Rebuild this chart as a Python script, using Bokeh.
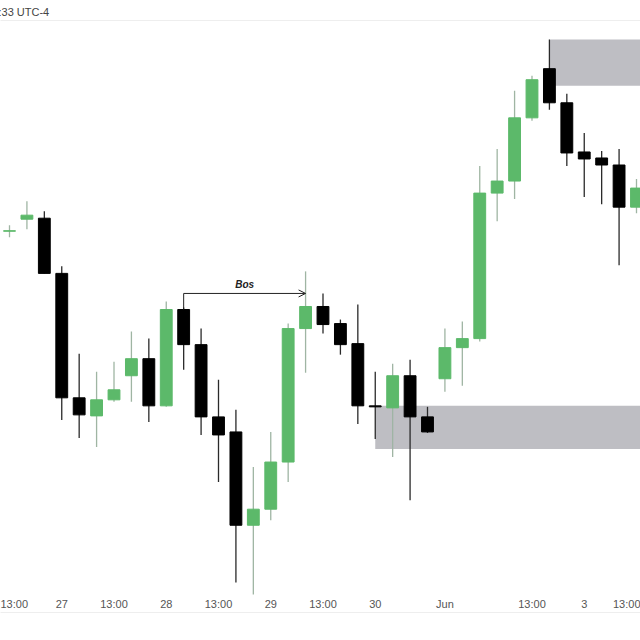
from bokeh.plotting import figure
from bokeh.models import (ColumnDataSource, Range1d, FixedTicker, LinearAxis,
                          Arrow, OpenHead, Label)
from bokeh.embed import file_html
from bokeh.resources import INLINE

# ---- data ----
opens  = [141.0, 142.2, 142.3, 136.8, 124.4, 122.6, 124.2, 126.6, 128.3, 123.6,
          133.2, 129.7, 122.5, 121.0, 111.7, 113.3, 118.0, 131.3, 133.5, 131.8,
          129.8, 123.6, 123.4, 126.6, 122.5, 126.3, 129.4, 130.3, 144.8, 146.0,
          152.3, 157.2, 153.8, 148.9, 148.3, 147.6, 143.4]
closes = [141.05, 142.6, 136.8, 124.4, 122.7, 124.2, 125.2, 128.3, 123.6, 133.2,
          129.7, 122.5, 120.7, 111.7, 113.3, 118.0, 131.3, 133.5, 131.7, 129.7,
          123.6, 123.5, 126.6, 122.5, 121.0, 129.4, 130.3, 144.8, 146.0, 152.3,
          156.1, 153.8, 148.8, 148.2, 147.6, 143.4, 145.3]
highs  = [141.6, 144.0, 143.0, 137.5, 128.8, 127.0, 128.0, 131.0, 130.3, 134.0,
          133.4, 131.3, 126.2, 123.2, 117.5, 121.0, 131.8, 137.0, 134.8, 132.2,
          133.7, 127.0, 127.8, 128.2, 123.5, 131.3, 132.0, 147.5, 149.2, 155.0,
          156.5, 160.1, 154.7, 150.8, 149.0, 149.2, 146.2]
lows   = [140.4, 141.2, 136.8, 122.2, 120.4, 119.5, 124.0, 124.0, 122.0, 123.5,
          127.2, 120.7, 116.0, 106.0, 104.7, 112.2, 116.0, 126.9, 130.8, 128.7,
          121.8, 120.3, 118.5, 114.2, 120.9, 125.0, 125.6, 130.0, 142.0, 144.2,
          152.0, 153.1, 147.5, 144.4, 143.7, 137.6, 142.8]

tick_idx    = [0, 3, 6, 9, 12, 15, 18, 21, 25, 30, 33, 36]
tick_labels = ["13:00", "27", "13:00", "28", "13:00", "29", "13:00", "30",
               "Jun", "13:00", "3", "13:00"]

# supply / demand zones: (start candle index, top, bottom)
zone_start  = [31, 21]
zone_top    = [160.1, 123.6]
zone_bottom = [155.5, 119.3]

bos_from, bos_to, bos_level = 10, 17, 134.8

GREEN = "#5cb96a"
BLACK = "#000000"

xs = list(range(len(opens)))
up = [c >= o for o, c in zip(opens, closes)]
src = ColumnDataSource(dict(
    x=xs,
    top=[max(o, c) for o, c in zip(opens, closes)],
    bottom=[min(o, c) for o, c in zip(opens, closes)],
    high=highs, low=lows,
    color=[GREEN if u else BLACK for u in up],
    wick=["#9fb5a3" if u else "#2a2a2a" for u in up],
))

p = figure(width=640, height=640, output_backend="svg", toolbar_location=None,
           x_range=Range1d(-0.517, 36.23), y_range=Range1d(104.8, 162.0),
           y_axis_location=None, x_axis_location="below",
           min_border_left=0, min_border_right=0, min_border_top=0,
           min_border_bottom=46, background_fill_color="white",
           border_fill_color="white")
p.outline_line_color = None
p.xgrid.visible = False
p.ygrid.visible = False

p.title.text = ":33 UTC-4"
p.title.align = "left"
p.title.text_font = "Liberation Sans"
p.title.text_font_size = "11px"
p.title.text_font_style = "normal"
p.title.text_color = "#444444"
p.title.offset = -2
p.title.standoff = 5.5

# zones
p.quad(left=zone_start, right=[40, 40], top=zone_top, bottom=zone_bottom,
       fill_color="#bebec3", line_color=None)

# candles
p.segment(x0="x", y0="high", x1="x", y1="low", line_color="wick",
          line_width=1.3, source=src)
p.vbar(x="x", width=0.68, top="top", bottom="bottom", fill_color="color",
       line_color="color", line_width=1, source=src)

# BOS
p.segment(x0=[bos_from], y0=[bos_level], x1=[bos_from], y1=[opens[bos_from]],
          line_color="#222222", line_width=1)
p.add_layout(Arrow(end=OpenHead(size=7, line_width=1, line_color="#222222"),
                   x_start=bos_from, y_start=bos_level, x_end=bos_to,
                   y_end=bos_level, line_width=1, line_color="#222222"))
p.add_layout(Label(x=(bos_from + bos_to) / 2, y=bos_level, y_offset=3,
                   text="Bos", text_align="center", text_font="Liberation Sans",
                   text_font_size="10px", text_font_style="bold italic",
                   text_color="#222222"))

# x axis
ax = p.xaxis[0]
ax.ticker = FixedTicker(ticks=tick_idx)
ax.major_label_overrides = {i: t for i, t in zip(tick_idx, tick_labels)}
ax.axis_line_color = None
ax.major_tick_line_color = None
ax.minor_tick_line_color = None
ax.major_tick_out = 0
ax.major_label_standoff = 3
ax.major_label_text_font = "Liberation Sans"
ax.major_label_text_font_size = "11px"
ax.major_label_text_color = "#555555"

# separator lines
top_ax = LinearAxis(axis_line_color="#eeeeee", major_tick_line_color=None,
                    minor_tick_line_color=None, major_label_text_font_size="0px",
                    ticker=FixedTicker(ticks=[]))
p.add_layout(top_ax, "above")
bot_ax = LinearAxis(axis_line_color="#eeeeee", major_tick_line_color=None,
                    minor_tick_line_color=None, major_label_text_font_size="0px",
                    ticker=FixedTicker(ticks=[]))
p.add_layout(bot_ax, "below")

open("out.html", "w").write(file_html(p, INLINE))
